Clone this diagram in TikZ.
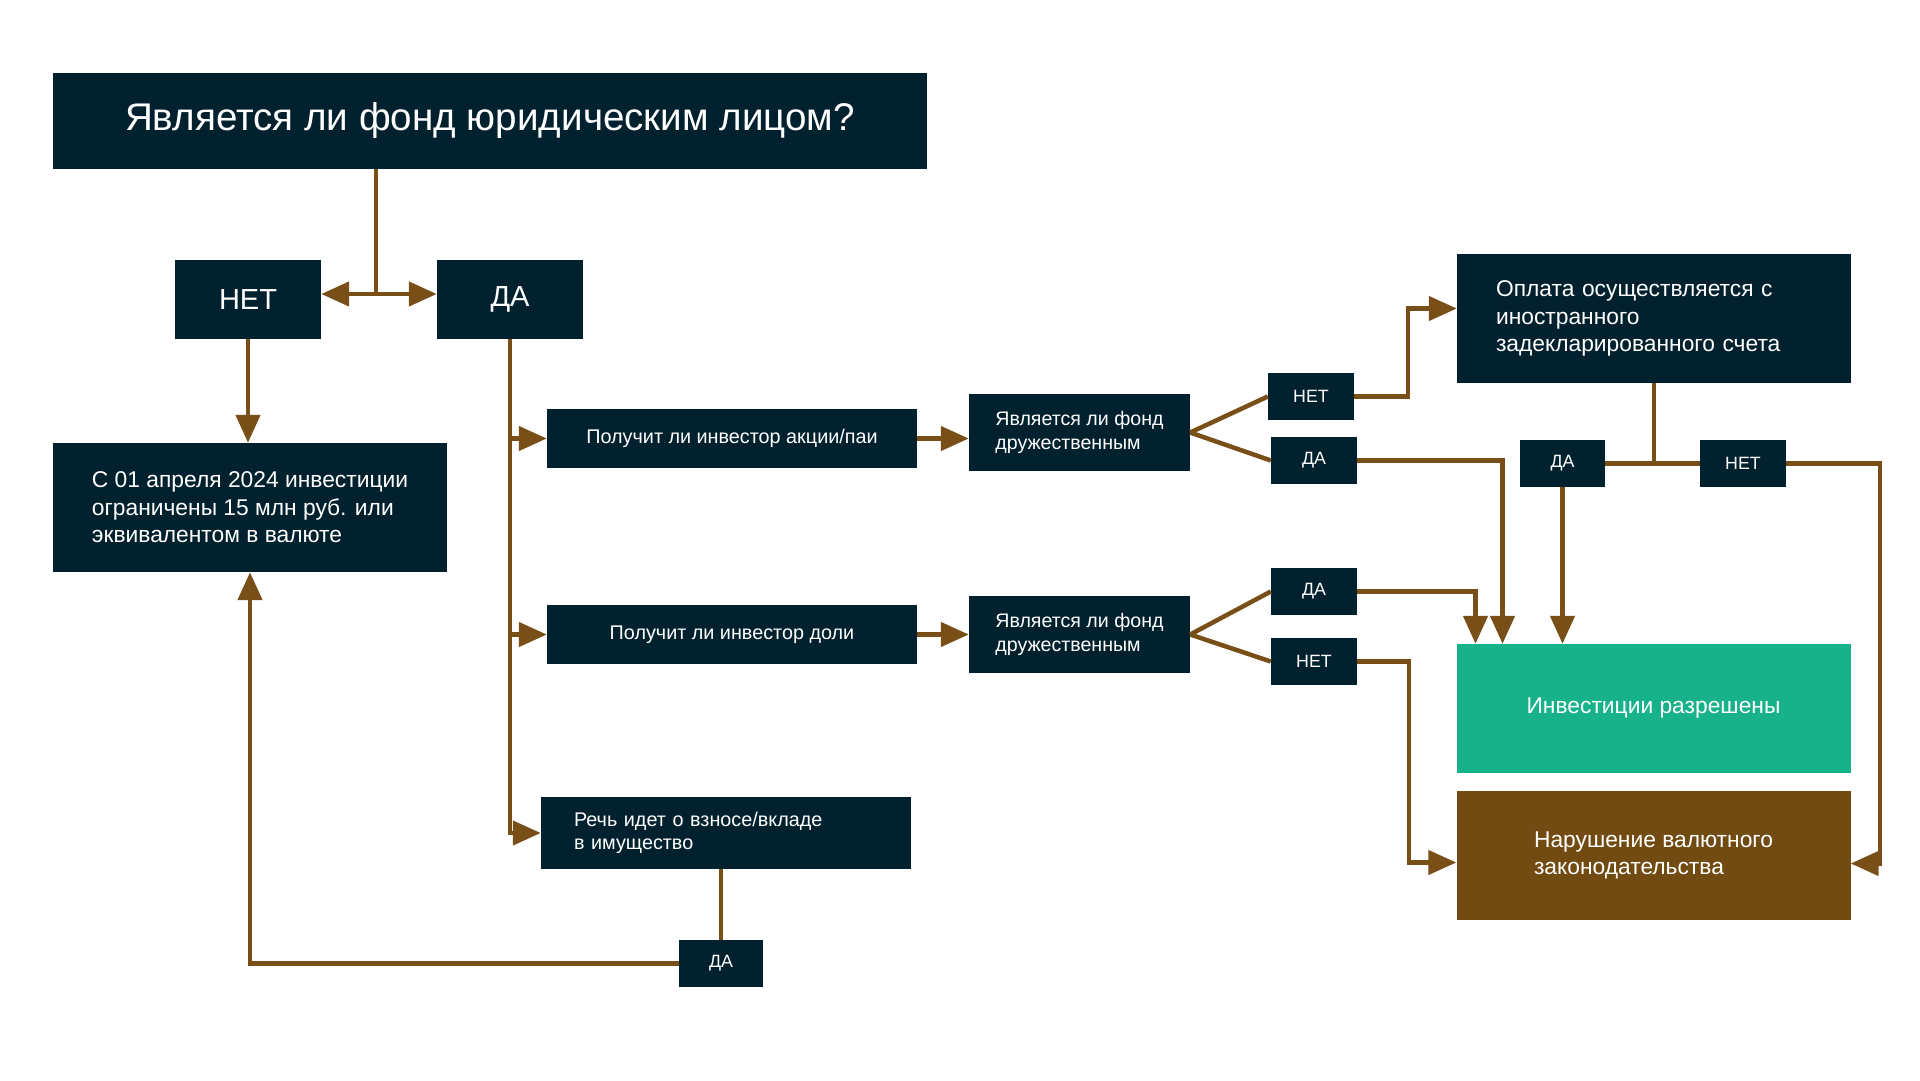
\documentclass[tikz,border=0pt]{standalone}
\usepackage{fontspec}
\setmainfont{Liberation Sans}
\usetikzlibrary{positioning,calc,arrows.meta}
\definecolor{navy}{HTML}{02212F}
\definecolor{brownline}{HTML}{774F17}
\definecolor{brownbox}{HTML}{724B12}
\definecolor{okgreen}{HTML}{18B28A}

\begin{document}
\begin{tikzpicture}[x=1pt, y=-1pt,
        box/.style={fill=navy, text=white, inner sep=0pt, align=left},
        bigbox/.style={box, minimum width=394pt, minimum height=129pt, font=\fontsize{22.8}{27.5}\selectfont},
        askbox/.style={box, minimum width=370pt, minimum height=59pt, font=\fontsize{19.8}{23}\selectfont},
        friendbox/.style={box, minimum width=221pt, minimum height=77pt, font=\fontsize{19.6}{24}\selectfont},
        tinybox/.style={box, minimum width=86pt, minimum height=47pt, font=\fontsize{17.8}{20}\selectfont},
        answer/.style={box, minimum width=146pt, minimum height=79pt, font=\fontsize{29}{32}\selectfont},
        link/.style={draw=brownline, line width=4.5pt},
        arr/.style={link, -{Triangle[length=28pt, width=24pt]}},
    ]
    \useasboundingbox (0,0) rectangle (1920,1080);

    \node[box, minimum width=874pt, minimum height=96pt, font=\fontsize{38.6}{44}\selectfont] (title) at (490,121) {Является ли фонд юридическим лицом?};
    \node[answer] (no) at (248,299.5) {НЕТ};
    \node[answer] (yes) at (510,299.5) {ДА};
    \node[bigbox] (limit) at (250,507.5) {С 01 апреля 2024 инвестиции\\ограничены 15 млн руб. или\\эквивалентом в валюте};

    \node[askbox] (shares) at (732,438.5) {Получит ли инвестор акции/паи};
    \node[askbox] (stakes) at (732,634.5) {Получит ли инвестор доли};
    \node[askbox, minimum height=72pt, text width=304pt] (contrib) at (726,833) {Речь идет о взносе/вкладе\\в имущество};
    \node[tinybox, minimum width=84pt] (yesC) at (721,963.5) {ДА};

    \node[friendbox] (friendA) at (1079.5,432.5) {Является ли фонд\\дружественным};
    \node[friendbox] (friendB) at (1079.5,634.5) {Является ли фонд\\дружественным};

    \node[tinybox] (noA) at (1311,396.5) {НЕТ};
    \node[tinybox] (yesA) at (1314,460.5) {ДА};
    \node[tinybox] (yesB) at (1314,591.5) {ДА};
    \node[tinybox] (noB) at (1314,661.5) {НЕТ};

    \node[bigbox, text width=316pt] (account) at (1654,318.5) {Оплата осуществляется с\\иностранного\\задекларированного счета};
    \node[tinybox, minimum width=85pt] (yesD) at (1562.5,463.5) {ДА};
    \node[tinybox] (noD) at (1743,463.5) {НЕТ};

    \node[bigbox, fill=okgreen, align=center] (allowed) at (1653.5,708.5) {Инвестиции разрешены};
    \node[bigbox, fill=brownbox] (breach) at (1653.5,855.5) {Нарушение валютного\\законодательства};

    \coordinate (split) at (376,294);
    \draw[link] (title.south -| split) -- (split);
    \draw[arr] (split) -- (no.east |- split);
    \draw[arr] (split) -- (yes.west |- split);
    \draw[arr] (no.south) -- (no.south |- limit.north);

    \draw[arr] (yes.south) |- (contrib.west);
    \draw[arr] (yes.south |- shares.west) -- (shares.west);
    \draw[arr] (yes.south |- stakes.west) -- (stakes.west);
    \draw[link] (contrib.south -| yesC) -- (yesC.north);
    \draw[arr] (yesC.west) -| (limit.south);

    \draw[arr] (shares.east) -- (friendA.west |- shares.east);
    \draw[arr] (stakes.east) -- (friendB.west |- stakes.east);
    \draw[link] (friendA.east) -- (noA.west);
    \draw[link] (friendA.east) -- (yesA.west);
    \draw[link] (friendB.east) -- (yesB.west);
    \draw[link] (friendB.east) -- (noB.west);

    \draw[arr] (noA.east) -- ++(54,0) |- ([yshift=10pt]account.west);
    \draw[arr] (yesA.east) -| ([xshift=-151pt]allowed.north);
    \draw[arr] (yesB.east) -| ([xshift=-178pt]allowed.north);
    \draw[arr] (noB.east) -- ++(52,0) |- ([yshift=-7pt]breach.west);

    \draw[link] (account.south) -- (account.south |- yesD.east);
    \draw[link] (yesD.east) -- (noD.west);
    \draw[arr] (yesD.south) -- (yesD.south |- allowed.north);
    \draw[arr] (noD.east) -- ++(94,0) |- ([yshift=-8pt]breach.east);
\end{tikzpicture}
\end{document}
